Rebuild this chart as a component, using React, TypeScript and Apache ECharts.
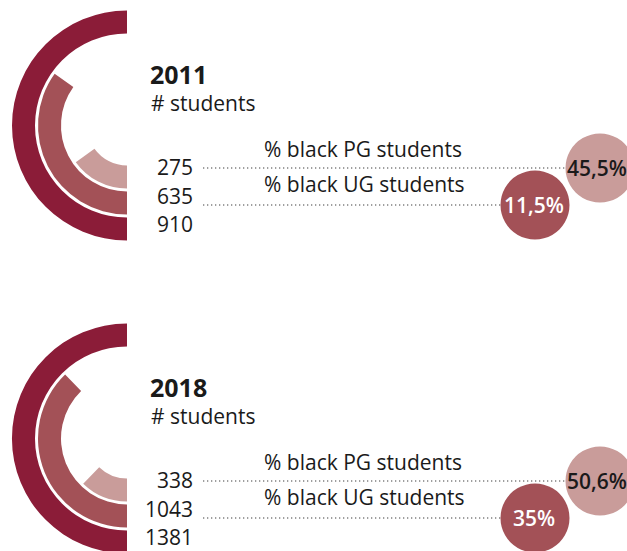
import React, { useEffect, useRef } from "react";
import * as echarts from "echarts";

// ---- data ----
const years = ["2011", "2018"];
const totalStudents = [910, 1381];
const ugStudents = [635, 1043];
const pgStudents = [275, 338];
const pctBlackPG = [45.5, 50.6];
const pctBlackUG = [11.5, 35];
const rowLabels = ["% black PG students", "% black UG students"];

// ---- style / layout ----
const W = 627;
const H = 551;
const FONT = "'Open Sans', 'Noto Sans', sans-serif";
const C_OUTER = "#8B1C38";
const C_MID = "#A35157";
const C_INNER = "#C99C9A";
const TEXT = "#1a1a1a";
const GROUP_DY = 313;
const ARC_CX = 127;
const ARC_CY = 125.5;
const R_OUTER = [92, 115];
const R_MID = [66, 89];
const R_INNER = [40, 63];
const LINE_X0 = 203;
const PG_X = 600;
const UG_X = 535;
const PG_Y = 168;
const UG_Y = 205;
const BUBBLE = 69;

const fmt = (v: number) => String(v).replace(".", ",") + "%";

function arcSeries(name: string, value: number, total: number, cy: number, radius: number[], color: string) {
  return {
    type: "pie",
    name,
    silent: true,
    center: [ARC_CX, cy],
    radius,
    startAngle: 270,
    clockwise: true,
    label: { show: false },
    labelLine: { show: false },
    emphasis: { disabled: true },
    itemStyle: { borderWidth: 0 },
    data: [
      { value, itemStyle: { color } },
      { value: 2 * total - value, itemStyle: { color: "transparent" } },
    ],
  };
}

export default function App() {
  const ref = useRef<HTMLDivElement>(null);
  useEffect(() => {
    if (!ref.current) return;
    const chart = echarts.init(ref.current, undefined, { renderer: "svg" });
    const series: any[] = [];
    const graphic: any[] = [];

    years.forEach((yr, i) => {
      const dy = i * GROUP_DY;
      const cy = ARC_CY + dy;
      series.push(arcSeries("total" + yr, totalStudents[i], totalStudents[i], cy, R_OUTER, C_OUTER));
      series.push(arcSeries("ug" + yr, ugStudents[i], totalStudents[i], cy, R_MID, C_MID));
      series.push(arcSeries("pg" + yr, pgStudents[i], totalStudents[i], cy, R_INNER, C_INNER));

      // leader lines
      series.push({
        type: "line",
        silent: true,
        symbol: "none",
        z: 1,
        lineStyle: { color: "#808080", width: 1.3, type: [1.3, 2.7] },
        data: [[LINE_X0, PG_Y + dy], [PG_X - BUBBLE / 2, PG_Y + dy]],
      });
      series.push({
        type: "line",
        silent: true,
        symbol: "none",
        z: 1,
        lineStyle: { color: "#808080", width: 1.3, type: [1.3, 2.7] },
        data: [[LINE_X0, UG_Y + dy], [UG_X - BUBBLE / 2, UG_Y + dy]],
      });

      // bubbles
      series.push({
        type: "scatter",
        silent: true,
        z: 3,
        symbolSize: BUBBLE,
        data: [
          {
            value: [PG_X, PG_Y + dy],
            itemStyle: { color: C_INNER, opacity: 1 },
            label: { show: true, formatter: fmt(pctBlackPG[i]), color: TEXT, offset: [-3, 0] },
          },
          {
            value: [UG_X, UG_Y + dy],
            itemStyle: { color: C_MID, opacity: 1 },
            label: { show: true, formatter: fmt(pctBlackUG[i]), color: "#ffffff", offset: [-1, 0] },
          },
        ],
        label: {
          position: "inside",
          fontFamily: FONT,
          fontSize: 21,
          fontWeight: 600,
        },
      });

      // texts
      graphic.push({
        type: "text",
        x: 150,
        y: 73.5 + dy,
        style: { text: yr, font: `bold 25px ${FONT}`, lineHeight: 22, fill: TEXT, textAlign: "left", textVerticalAlign: "middle" },
      });
      graphic.push({
        type: "text",
        x: 151,
        y: 102.5 + dy,
        style: { text: "# students", font: `21px ${FONT}`, lineHeight: 20, fill: TEXT, textAlign: "left", textVerticalAlign: "middle" },
      });
      [pgStudents[i], ugStudents[i], totalStudents[i]].forEach((n, k) => {
        graphic.push({
          type: "text",
          x: 193,
          y: 167 + k * 28.5 + dy,
          style: { text: String(n), font: `21px ${FONT}`, fill: TEXT, textAlign: "right", textVerticalAlign: "middle" },
        });
      });
      rowLabels.forEach((t, k) => {
        graphic.push({
          type: "text",
          x: 264,
          y: 149 + k * 35 + dy,
          style: { text: t, font: `21px ${FONT}`, fill: TEXT, textAlign: "left", textVerticalAlign: "middle" },
        });
      });
    });

    chart.setOption({
      animation: false,
      backgroundColor: "#ffffff",
      grid: { left: 0, top: 0, width: W, height: H, containLabel: false },
      xAxis: { type: "value", min: 0, max: W, show: false },
      yAxis: { type: "value", min: 0, max: H, inverse: true, show: false },
      series,
      graphic,
    });
    return () => chart.dispose();
  }, []);
  return <div ref={ref} style={{ position: "fixed", left: 0, top: 0, width: W, height: H }} />;
}
